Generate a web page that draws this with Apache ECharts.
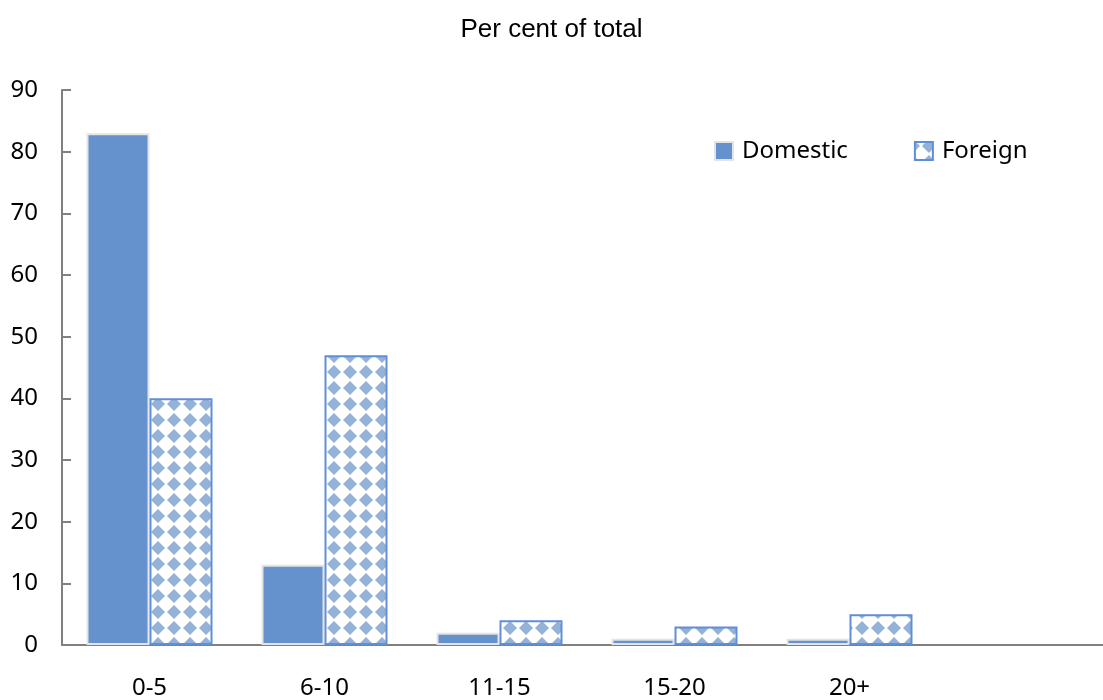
<!DOCTYPE html>
<html>
<head>
<meta charset="utf-8">
<script src="https://cdn.jsdelivr.net/npm/echarts@6/dist/echarts.min.js"></script>
<style>
html,body{margin:0;padding:0;background:#fff;}
#chart{width:1103px;height:700px;}
</style>
</head>
<body>
<div id="chart"></div>
<script>
const categories = ['0-5', '6-10', '11-15', '15-20', '20+', ''];
const domestic = [83, 13, 2, 1, 1, null];
const foreign = [40, 47, 4, 3, 5, null];
const seriesNames = ['Domestic', 'Foreign'];
const titleText = 'Per cent of total';

function makePattern() {
  const s = 16;
  const c = document.createElement('canvas');
  c.width = s; c.height = s;
  const ctx = c.getContext('2d');
  ctx.fillStyle = '#ffffff';
  ctx.fillRect(0, 0, s, s);
  ctx.fillStyle = '#94b2d8';
  const cx = 14, cy = 4, r = 7;
  for (const dx of [-s, 0, s]) {
    for (const dy of [-s, 0, s]) {
      ctx.beginPath();
      ctx.moveTo(cx + dx, cy + dy - r);
      ctx.lineTo(cx + dx + r, cy + dy);
      ctx.lineTo(cx + dx, cy + dy + r);
      ctx.lineTo(cx + dx - r, cy + dy);
      ctx.closePath();
      ctx.fill();
    }
  }
  return c;
}

const FONT = 'Noto Sans';
const chart = echarts.init(document.getElementById('chart'), null, {renderer: 'canvas'});
chart.setOption({
  animation: false,
  backgroundColor: '#ffffff',
  title: {
    text: titleText,
    left: 'center',
    top: 12,
    textStyle: {fontFamily: 'Liberation Sans', fontSize: 26, fontWeight: 'normal', color: '#000'}
  },
  legend: {
    left: 714,
    top: 139,
    padding: 0,
    icon: 'rect',
    itemWidth: 18,
    itemHeight: 18,
    itemGap: 66,
    textStyle: {fontFamily: FONT, fontSize: 24, color: '#000', padding: [0, 0, 0, 4]},
    data: seriesNames
  },
  grid: {left: 62, width: 1050, top: 90, bottom: 55, containLabel: false, outerBoundsMode: 'none'},
  xAxis: {
    type: 'category',
    data: categories,
    axisLine: {lineStyle: {color: '#808080', width: 2}},
    axisTick: {show: false},
    axisLabel: {fontFamily: FONT, fontSize: 24, color: '#000', margin: 31, interval: 0}
  },
  yAxis: {
    type: 'value',
    min: 0, max: 90, interval: 10,
    splitLine: {show: false},
    axisLine: {show: true, lineStyle: {color: '#808080', width: 2}},
    axisTick: {show: true, inside: true, length: 9, lineStyle: {color: '#808080', width: 2}},
    axisLabel: {fontFamily: FONT, fontSize: 24, color: '#000', margin: 24}
  },
  series: [
    {
      name: seriesNames[0],
      type: 'bar',
      data: domestic,
      barWidth: 63,
      barGap: '0%',
      itemStyle: {color: '#6592cd', borderColor: '#e4e4e4', borderWidth: 2}
    },
    {
      name: seriesNames[1],
      type: 'bar',
      data: foreign,
      barWidth: 63,
      barGap: '0%',
      itemStyle: {color: {image: makePattern(), repeat: 'repeat'}, borderColor: '#5f8fd6', borderWidth: 2}
    }
  ]
});
</script>
</body>
</html>
